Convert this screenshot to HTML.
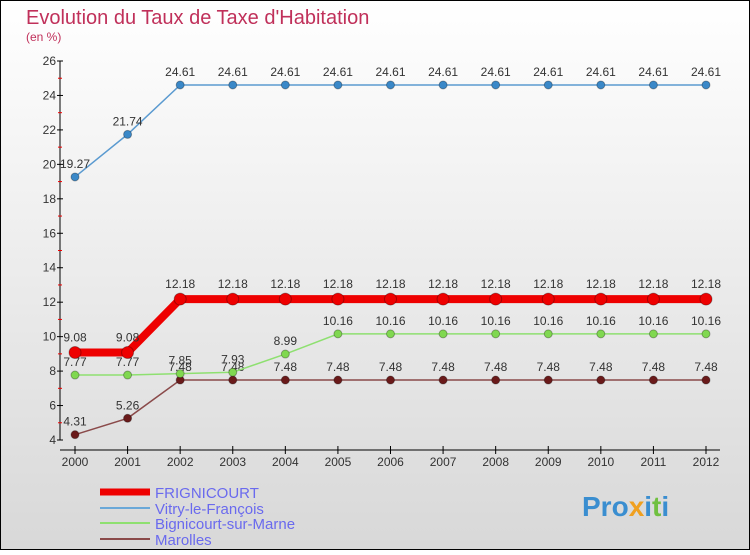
<!DOCTYPE html>
<html><head><meta charset="utf-8"><style>
body{margin:0;width:750px;height:550px;overflow:hidden;font-family:"Liberation Sans",sans-serif}
</style></head><body>
<svg width="750" height="550" xmlns="http://www.w3.org/2000/svg" font-family="Liberation Sans, sans-serif">
<defs><linearGradient id="bg" x1="0" y1="0" x2="0" y2="1"><stop offset="0" stop-color="#ffffff"/><stop offset="1" stop-color="#d8d8d8"/></linearGradient></defs>
<rect x="0.5" y="0.5" width="749" height="549" fill="url(#bg)" stroke="#000"/>
<text x="26" y="24" font-size="20" fill="#c0305a">Evolution du Taux de Taxe d'Habitation</text>
<text x="26" y="41" font-size="12" fill="#c0305a">(en %)</text>
<g id="axes"></g>
<g id="series"></g>
<g>
<line x1="100" y1="492" x2="150" y2="492" stroke="#ee0000" stroke-width="7"/>
<text x="155" y="498" font-size="15" fill="#6a6aee">FRIGNICOURT</text>
<line x1="100" y1="508" x2="150" y2="508" stroke="#6aa8d8" stroke-width="2"/>
<text x="155" y="514" font-size="15" fill="#6a6aee">Vitry-le-François</text>
<line x1="100" y1="523" x2="150" y2="523" stroke="#8ee070" stroke-width="2"/>
<text x="155" y="529" font-size="15" fill="#6a6aee">Bignicourt-sur-Marne</text>
<line x1="100" y1="539" x2="150" y2="539" stroke="#8a4a4a" stroke-width="2"/>
<text x="155" y="545" font-size="15" fill="#6a6aee">Marolles</text>
</g>
<text x="582" y="516" font-size="28" font-weight="bold" fill="#3a8ed0">Pro<tspan fill="#f0a020">x</tspan>i<tspan fill="#70c040">t</tspan>i</text>
</svg>
<script>
const years=[2000,2001,2002,2003,2004,2005,2006,2007,2008,2009,2010,2011,2012];
const yTicks=[4,6,8,10,12,14,16,18,20,22,24,26];
const frignicourt=[9.08,9.08,12.18,12.18,12.18,12.18,12.18,12.18,12.18,12.18,12.18,12.18,12.18];
const vitry=[19.27,21.74,24.61,24.61,24.61,24.61,24.61,24.61,24.61,24.61,24.61,24.61,24.61];
const bignicourt=[7.77,7.77,7.85,7.93,8.99,10.16,10.16,10.16,10.16,10.16,10.16,10.16,10.16];
const marolles=[4.31,5.26,7.48,7.48,7.48,7.48,7.48,7.48,7.48,7.48,7.48,7.48,7.48];
const NS="http://www.w3.org/2000/svg";
const X=i=>75+i*(631/12);
const Y=v=>440-(v-4)*(379/22);
function mk(t,a,p){const e=document.createElementNS(NS,t);for(const k in a)e.setAttribute(k,a[k]);p.appendChild(e);return e;}
const ax=document.getElementById('axes');
const yl=mk('line',{x1:60,y1:61,x2:60,y2:440,stroke:'#000'},ax);


const xl=mk('line',{x1:60,y1:450,x2:720,y2:450,stroke:'#000'},ax);


yTicks.forEach(v=>{
 mk('line',{x1:57,y1:Y(v),x2:63,y2:Y(v),stroke:'#000'},ax);
 if(v<26) mk('line',{x1:58,y1:Y(v+1),x2:62,y2:Y(v+1),stroke:'#e00'},ax);
 const t=mk('text',{x:56,y:Y(v)+4,'font-size':12,'text-anchor':'end',fill:'#333'},ax);
 
 
 t.textContent=v;
});
years.forEach((y,i)=>{
 mk('line',{x1:X(i),y1:446,x2:X(i),y2:454,stroke:'#000'},ax);
 const t=mk('text',{x:X(i),y:466,'font-size':12,'text-anchor':'middle',fill:'#333'},ax);
 
 
 t.textContent=y;
});
const sg=document.getElementById('series');
function series(name,data,color,w,r,fill){
 const g=mk('g',{},sg);
 
 
 mk('polyline',{points:data.map((v,i)=>X(i)+','+Y(v)).join(' '),fill:'none',stroke:color,'stroke-width':w},g);
 data.forEach((v,i)=>{
  const c=mk('circle',{cx:X(i),cy:Y(v),r:r,fill:fill,stroke:'rgba(0,0,0,0.3)'},g);
  
  
  const t=mk('text',{x:X(i),y:Y(v)-(r+5),'font-size':12,'text-anchor':'middle',fill:'#333'},g);
  
  
  t.textContent=v;
 });
}
series('series-marolles',marolles,'#8a4a4a',1.5,4,'#6a1a1a');
series('series-bignicourt',bignicourt,'#8ee070',1.5,4,'#80d850');
series('series-vitry',vitry,'#5a9ad0',1.5,4,'#3a88c8');
series('series-frignicourt',frignicourt,'#ee0000',8,6,'#ee0000');
</script>
</body></html>
